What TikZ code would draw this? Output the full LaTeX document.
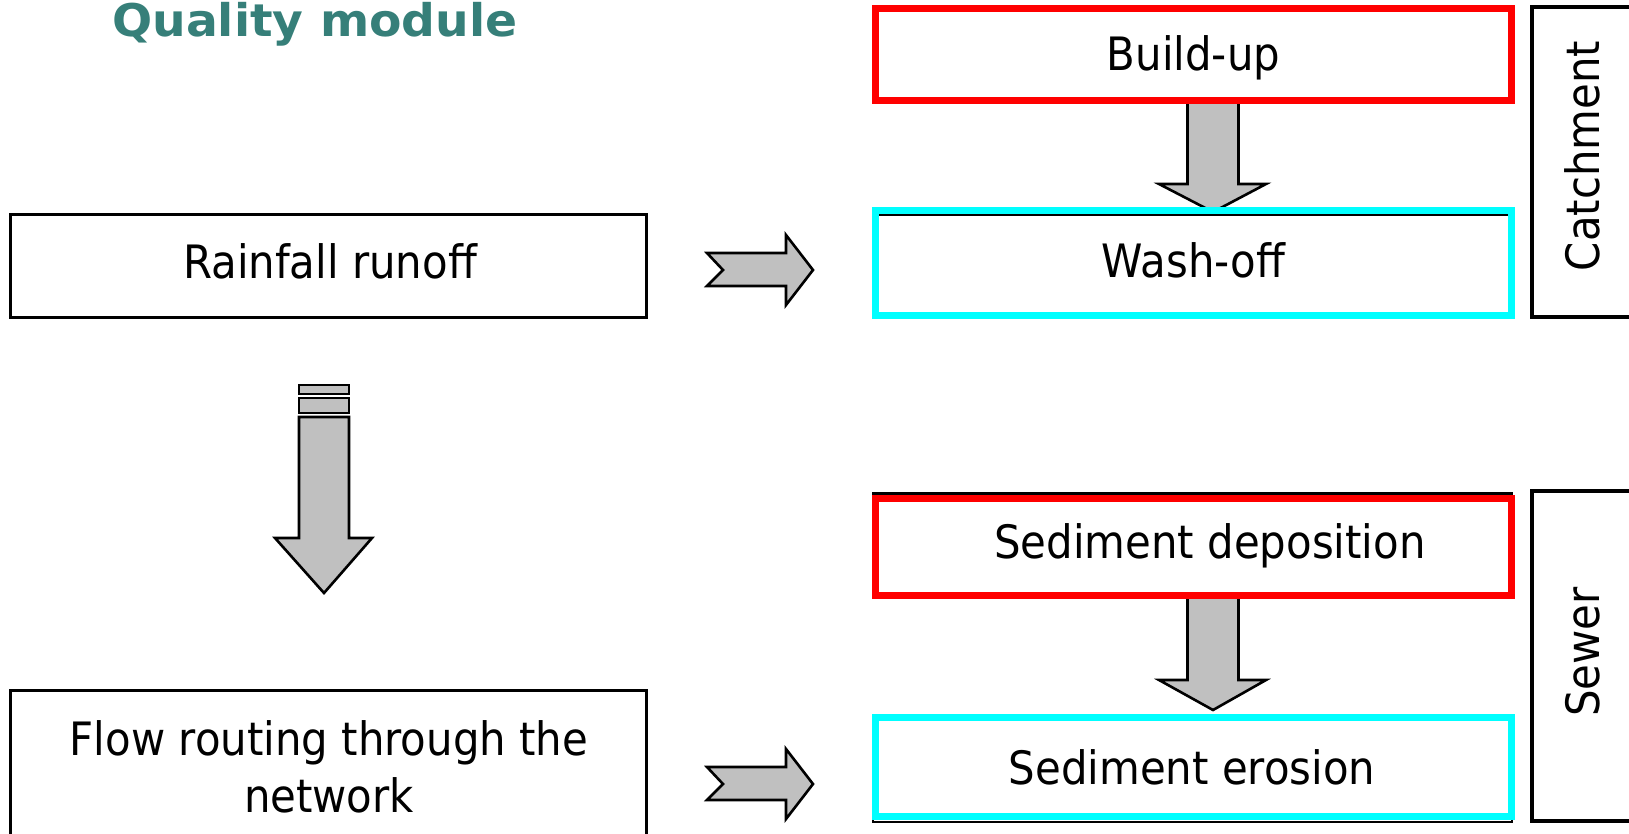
\documentclass[tikz,border=0pt]{standalone}
\usepackage{fontspec}
\setmainfont{DejaVu Sans}[FakeStretch=0.91]
\newfontfamily\titlefont{DejaVu Sans Bold}[FakeStretch=1.05]
\definecolor{titleteal}{RGB}{54,127,121}
\definecolor{arrowgray}{RGB}{192,192,192}
\definecolor{boxred}{RGB}{255,0,0}
\definecolor{boxcyan}{RGB}{0,255,255}

\begin{document}
\begin{tikzpicture}[x=1pt,y=-1pt,
  txt/.style={inner sep=0pt, font=\fontsize{46}{57}\selectfont, anchor=base},
  plainbox/.style={rectangle, draw=black, line width=2.5pt, inner sep=0pt},
  underbox/.style={rectangle, draw=black, line width=2.5pt, inner sep=0pt},
  redbox/.style={rectangle, draw=boxred, line width=7pt, inner sep=0pt},
  cyanbox/.style={rectangle, draw=boxcyan, line width=7pt, inner sep=0pt},
  framebox/.style={rectangle, draw=black, line width=4pt, inner sep=0pt},
  blockarrow/.style={draw=black, fill=arrowgray, line width=2.6pt, line join=miter},
]
\useasboundingbox (0,0) rectangle (1629,833);
\clip (0,0) rectangle (1629,833);

% title
\node[inner sep=0pt, anchor=base west, text=titleteal,
      font=\titlefont\fontsize{45}{50}\selectfont] (title) at (112,36) {Quality module};

% left column: hydraulic modules
\node[plainbox, minimum width=636pt, minimum height=103pt] (rain) at (328.5,266) {};
\node[plainbox, minimum width=636pt, minimum height=209.5pt] (flow) at (328.5,795.25) {};
\node[txt] (t-rain) at (330,278) {Rainfall runoff};
% multi-line node: the base anchor sits on the last line
\node[txt, align=center] (t-flow) at (329,812) {Flow routing through the\\network};

% black frames lying under the coloured process boxes
\node[underbox, minimum width=634pt, minimum height=101pt] (wash-u) at (1193,265.5) {};
\node[underbox, minimum width=639pt, minimum height=101.3pt] (dep-u) at (1192.5,544.35) {};
\node[underbox, minimum width=639pt, minimum height=104pt] (ero-u) at (1192.5,770) {};

% block arrows
\draw[blockarrow] (299,385) rectangle (349,394);
\draw[blockarrow] (299,398) rectangle (349,413);
\draw[blockarrow] (299,417) -- (349,417) -- (349,538) -- (372,538) -- (324,593)
  -- (275,538) -- (299,538) -- cycle;

\draw[blockarrow] (707,253) -- (786,253) -- (786,235) -- (813,270) -- (786,305)
  -- (786,286) -- (707,286) -- (723,270) -- cycle;
\draw[blockarrow] (707,767) -- (786,767) -- (786,749) -- (813,784) -- (786,819)
  -- (786,800) -- (707,800) -- (723,784) -- cycle;

\draw[blockarrow] (1187.5,100) -- (1238.5,100) -- (1238.5,184) -- (1266,184)
  -- (1213,212) -- (1159,184) -- (1187.5,184) -- cycle;
\draw[blockarrow] (1187.5,596) -- (1238.5,596) -- (1238.5,680) -- (1266,680)
  -- (1213,710) -- (1159,680) -- (1187.5,680) -- cycle;

% coloured process boxes
\node[redbox,  minimum width=636pt, minimum height=92pt] (build) at (1193.5,54.5) {};
\node[cyanbox, minimum width=636pt, minimum height=105pt] (wash) at (1193.5,263) {};
\node[redbox,  minimum width=636pt, minimum height=97pt] (dep) at (1193.5,547) {};
\node[cyanbox, minimum width=636pt, minimum height=99pt] (ero) at (1193.5,767) {};

\node[txt] (t-build) at (1193.5,70.5) {Build-up};
\node[txt] (t-wash) at (1193.5,277) {Wash-off};
\node[txt] (t-dep) at (1210,558) {Sediment deposition};
\node[txt] (t-ero) at (1192,784) {Sediment erosion};

% domain frames on the right
\node[framebox, minimum width=168.5pt, minimum height=309.5pt] (catch) at (1615.75,161.75) {};
\node[framebox, minimum width=168pt, minimum height=330.5pt] (sewer) at (1616,655.75) {};
\node[txt, rotate=90] (t-catch) at (1599,156) {Catchment};
\node[txt, rotate=90] (t-sewer) at (1599,652) {Sewer};
\end{tikzpicture}
\end{document}
